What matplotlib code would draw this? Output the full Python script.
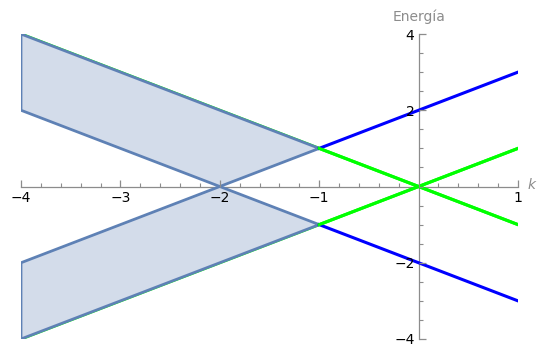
import numpy as np
import matplotlib.pyplot as plt
from matplotlib.patches import Polygon
from matplotlib.ticker import MultipleLocator, FixedLocator

# bandas de energía
k_lin = [-4, 1]
banda_verde_sup = [-4, 1]     # E = k
banda_verde_inf = [4, -1]     # E = -k

k_seg = [-1, 1]
azul_sup_seg = [1, 3]         # E = k + 2
azul_inf_seg = [-1, -3]       # E = -k - 2
verde_sup_seg = [1, -1]
verde_inf_seg = [-1, 1]

# zonas sombreadas (vértices k, E)
zona_sup = [(-4, 4), (-1, 1), (-2, 0), (-4, 2)]
zona_inf = [(-4, -4), (-1, -1), (-2, 0), (-4, -2)]

xticks_may = [-4, -3, -2, -1, 1]
yticks_may = [-4, -2, 2, 4]

fig = plt.figure(figsize=(5.39, 3.54), dpi=100)
ax = fig.add_axes([21/539, 15/354, 497/539, 305/354])
ax.set_xlim(-4, 1)
ax.set_ylim(-4, 4)

gris = '#8c8c8c'
borde = '#5e81b5'

# líneas por debajo de los polígonos
ax.plot(k_lin, banda_verde_inf, color='#00ff00', lw=2.2, zorder=2)
ax.plot(k_lin, banda_verde_sup, color='#00ff00', lw=2.2, zorder=2)
ax.plot(k_seg, azul_sup_seg, color='#0000ff', lw=2.2, zorder=4)
ax.plot(k_seg, azul_inf_seg, color='#0000ff', lw=2.2, zorder=4)
ax.plot(k_seg, verde_sup_seg, color='#00ff00', lw=2.2, zorder=4)
ax.plot(k_seg, verde_inf_seg, color='#00ff00', lw=2.2, zorder=4)

for z in (zona_sup, zona_inf):
    ax.add_patch(Polygon(z, closed=True, facecolor='#d3dcea', edgecolor=borde,
                         lw=2, zorder=3, joinstyle='miter'))

for s in ('top', 'right'):
    ax.spines[s].set_visible(False)
ax.spines['left'].set_position(('data', 0))
ax.spines['bottom'].set_position(('data', 0))
for s in ('left', 'bottom'):
    ax.spines[s].set_color(gris)
    ax.spines[s].set_linewidth(0.9)
    ax.spines[s].set_zorder(1)

ax.xaxis.set_major_locator(FixedLocator(xticks_may))
ax.yaxis.set_major_locator(FixedLocator(yticks_may))
ax.xaxis.set_minor_locator(MultipleLocator(0.2))
ax.yaxis.set_minor_locator(MultipleLocator(0.5))
ax.set_xticklabels(['\u22124', '\u22123', '\u22122', '\u22121', '1'])
ax.set_yticklabels(['\u22124', '\u22122', '2', '4'])
ax.tick_params(which='major', direction='in', length=5, width=0.9, color=gris,
               labelsize=10, labelcolor='black', pad=3)
ax.tick_params(which='minor', direction='in', length=3, width=0.8, color=gris)
# etiquetas por encima de las zonas sombreadas
ax.xaxis.set_zorder(5)
ax.yaxis.set_zorder(5)

ax.text(1.1, 0.05, 'k', color=gris, fontsize=10, style='italic',
        ha='left', va='center', clip_on=False)
ax.text(0, 4.25, 'Energía', color=gris, fontsize=10, ha='center', va='bottom',
        clip_on=False)

fig.savefig('out.png', dpi=100)
